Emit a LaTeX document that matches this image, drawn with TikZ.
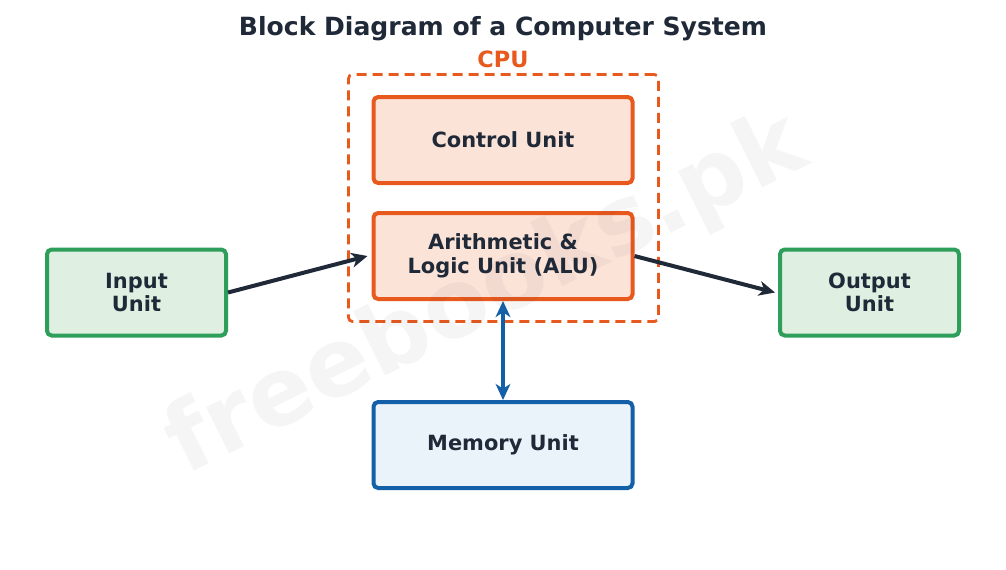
\documentclass[tikz,border=0pt]{standalone}
\usepackage{fontspec}
\setmainfont{DejaVu Sans}
\usetikzlibrary{arrows.meta}
\definecolor{ink}{HTML}{1F2937}
\definecolor{cpuor}{HTML}{E8591E}
\definecolor{orfill}{HTML}{FCE3D8}
\definecolor{grn}{HTML}{2E9E5B}
\definecolor{grnfill}{HTML}{DFF0E3}
\definecolor{blu}{HTML}{1460A8}
\definecolor{blufill}{HTML}{EAF2FA}
\tikzset{
  unitbox/.style={draw, line width=3pt, rounded corners=3.5pt, align=center,
    text=ink, font=\bfseries\fontsize{15.7}{17.8}\selectfont, inner sep=0pt},
  orbox/.style={unitbox, draw=cpuor, fill=orfill, minimum width=259*0.75pt, minimum height=86*0.75pt},
  iobox/.style={unitbox, draw=grn, fill=grnfill, minimum width=179*0.75pt, minimum height=86*0.75pt},
  membox/.style={unitbox, draw=blu, fill=blufill, minimum width=259*0.75pt, minimum height=86*0.75pt},
  flow/.style={draw=ink, line width=3pt, -{Stealth[length=12pt,width=11pt,inset=3.5pt]}},
  memflow/.style={draw=blu, line width=3pt, {Stealth[length=12pt,width=11pt,inset=3.5pt]}-{Stealth[length=12pt,width=11pt,inset=3.5pt]}},
}
\begin{document}
\begin{tikzpicture}[x=0.75pt,y=-0.75pt]
\useasboundingbox[fill=white] (0,0) rectangle (1006,569);
\node[text=ink, font=\bfseries\fontsize{18.8}{22}\selectfont] (title) at (503,29) {Block Diagram of a Computer System};
\node[text=cpuor, font=\bfseries\fontsize{16.8}{20}\selectfont] (cpulabel) at (503,59) {CPU};
\node[draw=cpuor, line width=2.1pt, dash pattern=on 7.5pt off 4.5pt, rounded corners=3pt,
  minimum width=310*0.75pt, minimum height=247*0.75pt, inner sep=0pt] (cpu) at (503.5,198) {};
\node[orbox] (cu) at (503,140) {Control Unit};
\node[orbox] (alu) at (503,256) {\raisebox{0pt}{Arithmetic \&}\\Logic Unit (ALU)};
\node[membox] (mem) at (503,445) {Memory Unit};
\node[iobox] (in) at (136.5,292.5) {Input\\Unit};
\node[iobox] (out) at (869.5,292.5) {Output\\Unit};
\draw[flow] (in.east) -- ([xshift=-4*0.75pt]alu.west);
\draw[flow] (alu.east) -- ([xshift=-3*0.75pt]out.west);
\draw[memflow] (alu.south) -- (mem.north);
\node[rotate=26.5, text=ink, opacity=0.045, font=\bfseries\fontsize{71}{80}\selectfont] (wm) at (487,296) {freebooks.pk};
\end{tikzpicture}
\end{document}
